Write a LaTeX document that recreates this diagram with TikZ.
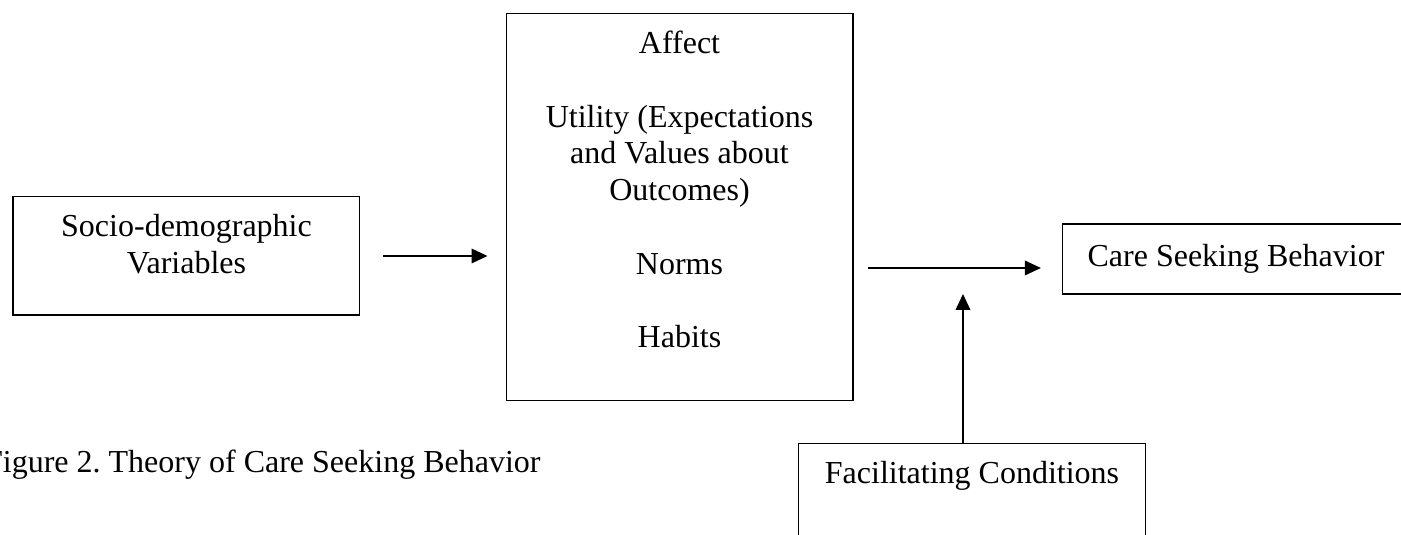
\documentclass[tikz,border=0pt]{standalone}
\usepackage{fontspec}
\setmainfont{Liberation Serif}
\usetikzlibrary{arrows.meta}
\usetikzlibrary{calc}

\newcommand{\boxgap}[1]{\rule[-#1]{0pt}{#1}}

\begin{document}
\begin{tikzpicture}[
    box/.style={draw, line width=0.5pt, minimum width=130pt, inner xsep=4pt, inner ysep=6.5pt, align=center, font=\fontsize{12}{13.8}\selectfont},
    link/.style={line width=0.5pt, -{Triangle[length=6pt, width=5.5pt]}}
]
                \useasboundingbox (0,0) rectangle (18.465,7.051);

                \node[box] (socio) at (2.458,3.677) {Socio-demographic\\Variables\boxgap{9.25pt}};
                \node[box] (att) at (8.956,4.323) {Affect\\[13.8pt]Utility (Expectations\\and Values about\\Outcomes)\\[13.8pt]Norms\\[13.8pt]Habits\boxgap{13.15pt}};
                \node[box, minimum height=26.25pt] (care) at (16.290,3.638) {Care Seeking Behavior};
                \node[box] (facil) at (12.811,0.422) {Facilitating Conditions\boxgap{23.05pt}};
                \node[anchor=base west, font=\fontsize{12}{13.8}\selectfont] (caption) at (-0.32,0.830) {Figure 2.\ Theory of Care Seeking Behavior};
                \coordinate (join) at (12.692,3.519);

                \draw[link, shorten <=8.6pt, shorten >=6.75pt] (socio.east) to (socio.east -| att.west);
                \draw[link, shorten <=5.25pt, shorten >=7.9pt] (att.east |- join) to (join -| care.west);
                \draw[link, shorten >=9.75pt] (facil.north -| join) to (join);
\end{tikzpicture}
\end{document}
